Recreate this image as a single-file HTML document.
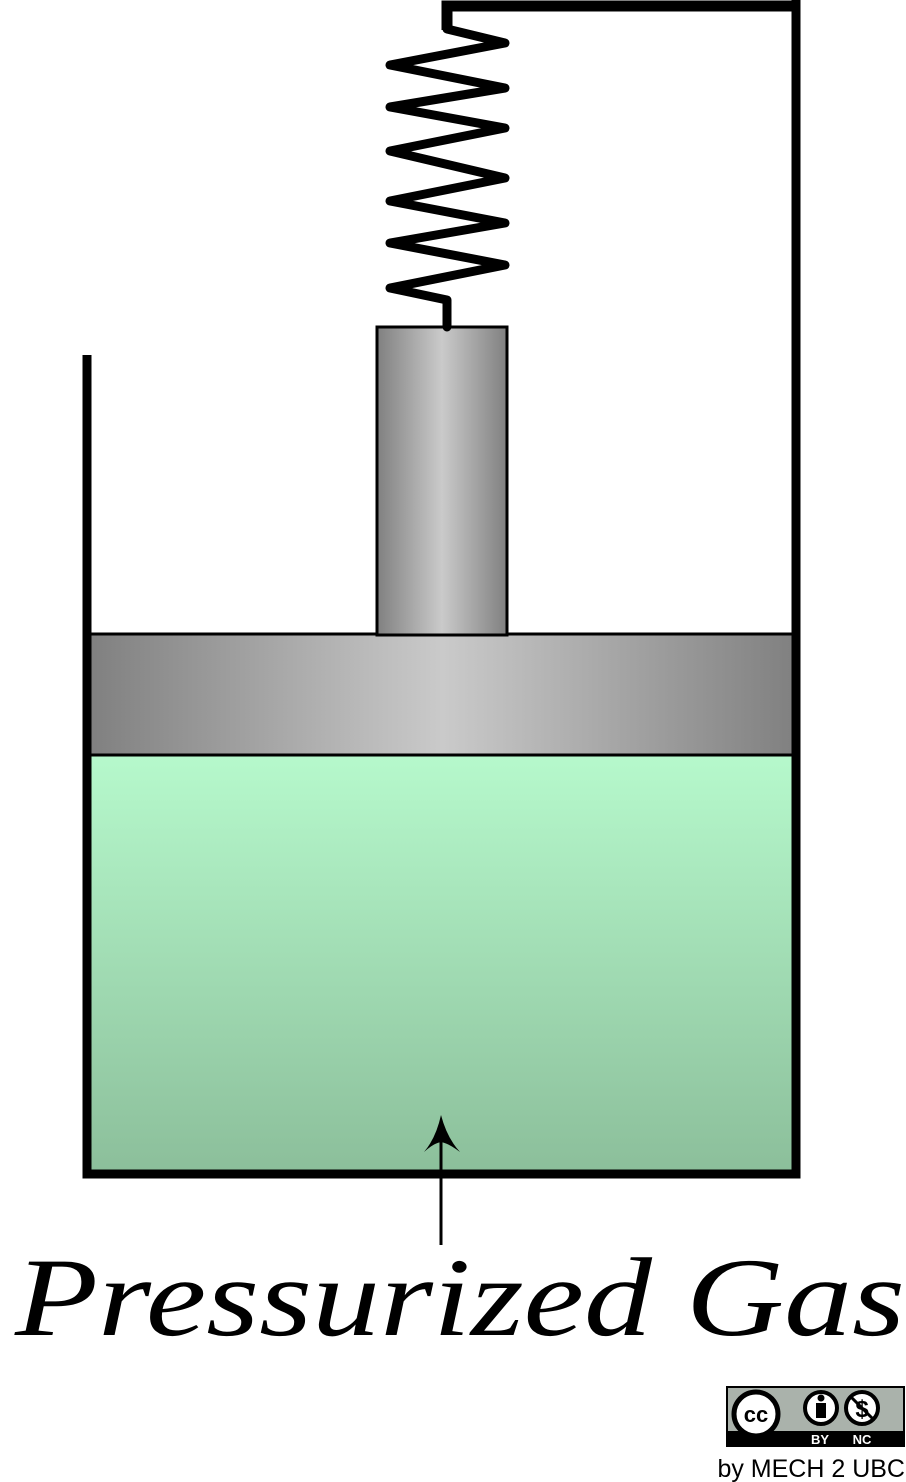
<!DOCTYPE html>
<html><head><meta charset="utf-8"><style>
html,body{margin:0;padding:0;background:#fff;width:906px;height:1482px;overflow:hidden}
</style></head><body>
<svg width="906" height="1482" viewBox="0 0 906 1482" xmlns="http://www.w3.org/2000/svg">
<defs>
<linearGradient id="metal" x1="0" x2="1" y1="0" y2="0">
<stop offset="0" stop-color="#808080"/><stop offset="0.5" stop-color="#cacaca"/><stop offset="1" stop-color="#808080"/>
</linearGradient>
<linearGradient id="gas" x1="0" x2="0" y1="0" y2="1">
<stop offset="0" stop-color="#b6f9cc"/><stop offset="1" stop-color="#8cbf9b"/>
</linearGradient>
</defs>
<rect x="91" y="755" width="702" height="415" fill="url(#gas)"/>
<rect x="90" y="634" width="705" height="121" fill="url(#metal)" stroke="#000" stroke-width="3"/>
<rect x="377" y="327" width="130" height="308" fill="url(#metal)" stroke="#000" stroke-width="3"/>
<path d="M87 355 V1174 H796 V0" fill="none" stroke="#000" stroke-width="9"/>
<path d="M447 30 V6 H796" fill="none" stroke="#000" stroke-width="11"/>
<polyline points="447,29 505,43 390,65 505,88 390,107 505,128 390,151 505,178 390,201 505,223 390,243 505,265 390,288 447,300 447,327" fill="none" stroke="#000" stroke-width="9" stroke-linejoin="round" stroke-linecap="round"/>
<line x1="441" y1="1245" x2="441" y2="1140" stroke="#000" stroke-width="3"/>
<path d="M441 1115 Q436 1138 424 1152 Q434 1143 441 1142 Q448 1143 460 1152 Q447 1138 441 1115 Z" fill="#000"/>
<text x="15" y="1335" font-family="Liberation Serif, serif" font-style="italic" font-size="112" textLength="890" lengthAdjust="spacingAndGlyphs" fill="#000">Pressurized Gas</text>
<g>
<rect x="726" y="1386" width="179" height="61" fill="#000"/>
<rect x="728" y="1388" width="175" height="43" fill="#aab2ab"/>
<circle cx="756" cy="1414" r="22" fill="#fff" stroke="#000" stroke-width="5"/>
<text x="756" y="1422" text-anchor="middle" font-family="Liberation Sans, sans-serif" font-weight="bold" font-size="22" fill="#000">cc</text>
<circle cx="821" cy="1408" r="16" fill="#fff" stroke="#000" stroke-width="4"/>
<circle cx="821" cy="1398" r="3.5" fill="#000"/>
<rect x="816" y="1403" width="10" height="15" fill="#000"/>
<circle cx="862" cy="1408" r="16" fill="#fff" stroke="#000" stroke-width="4"/>
<text x="862" y="1417" text-anchor="middle" font-family="Liberation Sans, sans-serif" font-weight="bold" font-size="24" fill="#000">$</text>
<line x1="851" y1="1397" x2="873" y2="1419" stroke="#000" stroke-width="3"/>
<text x="820" y="1444" text-anchor="middle" font-family="Liberation Sans, sans-serif" font-weight="bold" font-size="13" fill="#fff">BY</text>
<text x="862" y="1444" text-anchor="middle" font-family="Liberation Sans, sans-serif" font-weight="bold" font-size="13" fill="#fff">NC</text>
</g>
<text x="905" y="1477" text-anchor="end" font-family="Liberation Sans, sans-serif" font-size="25" fill="#000">by MECH 2 UBC</text>
</svg>
</body></html>
